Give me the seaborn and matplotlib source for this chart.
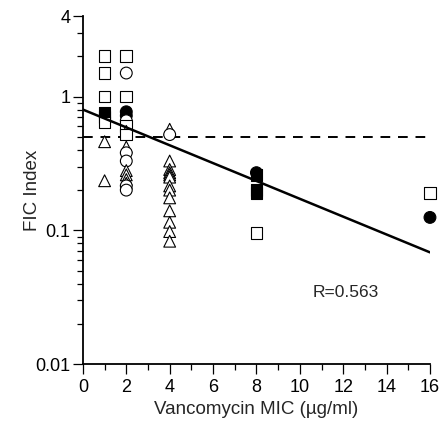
import numpy as np
import pandas as pd
import matplotlib
matplotlib.use("Agg")
import matplotlib.pyplot as plt
import matplotlib.ticker as mticker
import seaborn as sns

# vancomycin MIC (ug/ml), FIC index, marker shape and fill of each isolate
mic = [1, 1, 1, 1, 1, 1, 1, 1,
       2, 2, 2, 2, 2, 2, 2, 2, 2, 2, 2, 2, 2, 2, 2, 2, 2, 2,
       4, 4, 4, 4, 4, 4, 4, 4, 4, 4, 4, 4, 4, 4,
       8, 8, 8, 8, 8,
       16, 16]
fic = [2.0, 1.5, 1.0, 0.76, 0.70, 0.64, 0.46, 0.235,
       2.0, 1.5, 1.0, 0.77, 0.72, 0.66, 0.60, 0.55, 0.52, 0.42, 0.38, 0.33,
       0.28, 0.26, 0.24, 0.225, 0.215, 0.20,
       0.57, 0.52, 0.33, 0.285, 0.27, 0.26, 0.25, 0.215, 0.20, 0.175,
       0.14, 0.115, 0.098, 0.083,
       0.26, 0.27, 0.20, 0.19, 0.096,
       0.19, 0.125]
shape = ['square', 'square', 'square', 'square', 'square', 'square', 'triangle', 'triangle',
         'square', 'circle', 'square', 'circle', 'circle', 'circle', 'square', 'triangle',
         'square', 'triangle', 'circle', 'circle',
         'triangle', 'triangle', 'triangle', 'triangle', 'circle', 'circle',
         'triangle', 'circle', 'triangle', 'triangle', 'triangle', 'triangle', 'triangle',
         'triangle', 'triangle', 'triangle',
         'triangle', 'triangle', 'triangle', 'triangle',
         'square', 'circle', 'square', 'square', 'square',
         'square', 'circle']
fill = ['open', 'open', 'open', 'filled', 'filled', 'open', 'open', 'open',
        'open', 'open', 'open', 'filled', 'filled', 'open', 'open', 'open',
        'open', 'open', 'open', 'open',
        'open', 'open', 'open', 'open', 'open', 'open',
        'open', 'open', 'open', 'open', 'open', 'open', 'open',
        'open', 'open', 'open',
        'open', 'open', 'open', 'open',
        'filled', 'filled', 'filled', 'filled', 'open',
        'open', 'filled']

# log10 regression line and synergy cut-off
reg_intercept = -0.097
reg_slope = -0.0667
reg_x = [0, 16]
cutoff = 0.5

df = pd.DataFrame({'mic': mic, 'fic': fic, 'shape': shape, 'fill': fill})

sns.set_style('ticks')
plt.rcParams['font.family'] = ['Liberation Sans', 'DejaVu Sans']

fig = plt.figure(figsize=(4.41, 4.22), dpi=100)
ax = fig.add_axes([0.188, 0.137, 0.787, 0.825])

sns.scatterplot(data=df, x='mic', y='fic', hue='fill', style='shape',
                palette={'open': 'white', 'filled': 'black'},
                markers={'square': 's', 'circle': 'o', 'triangle': '^'},
                s=72, edgecolor='black', linewidth=0.8, legend=False,
                clip_on=False, zorder=3, ax=ax)

xs = np.array(reg_x, dtype=float)
ax.plot(xs, 10 ** (reg_intercept + reg_slope * xs), color='black', lw=1.8, zorder=4)
ax.plot(reg_x, [cutoff, cutoff], color='black', lw=1.4, ls=(0, (5, 4)), zorder=2)
ax.text(10.6, 0.032, 'R=0.563', fontsize=12.5)

ax.set_yscale('log')
ax.set_ylim(0.01, 4)
ax.set_xlim(0, 16)
ax.set_yticks([0.01, 0.1, 1, 4])
ax.set_yticklabels(['0.01', '0.1', '1', '4'])
ax.yaxis.set_minor_locator(mticker.LogLocator(base=10, subs=np.arange(2, 10)))
ax.yaxis.set_minor_formatter(mticker.NullFormatter())
ax.set_xticks(range(0, 17, 2))
ax.xaxis.set_minor_locator(mticker.MultipleLocator(1))

ax.tick_params(which='major', length=7, width=0.9, labelsize=13, color='black', labelcolor='black')
ax.tick_params(axis='y', which='major', pad=2)
ax.tick_params(which='minor', length=4, width=0.9, color='black')
for sp in ['left', 'bottom']:
    ax.spines[sp].set_linewidth(1.3)
    ax.spines[sp].set_color('black')
sns.despine(ax=ax)

ax.set_xlabel('Vancomycin MIC (µg/ml)', fontsize=13.5, labelpad=4)
ax.set_ylabel('FIC Index', fontsize=13.5, labelpad=-4)

fig.savefig('out.png', dpi=100)
